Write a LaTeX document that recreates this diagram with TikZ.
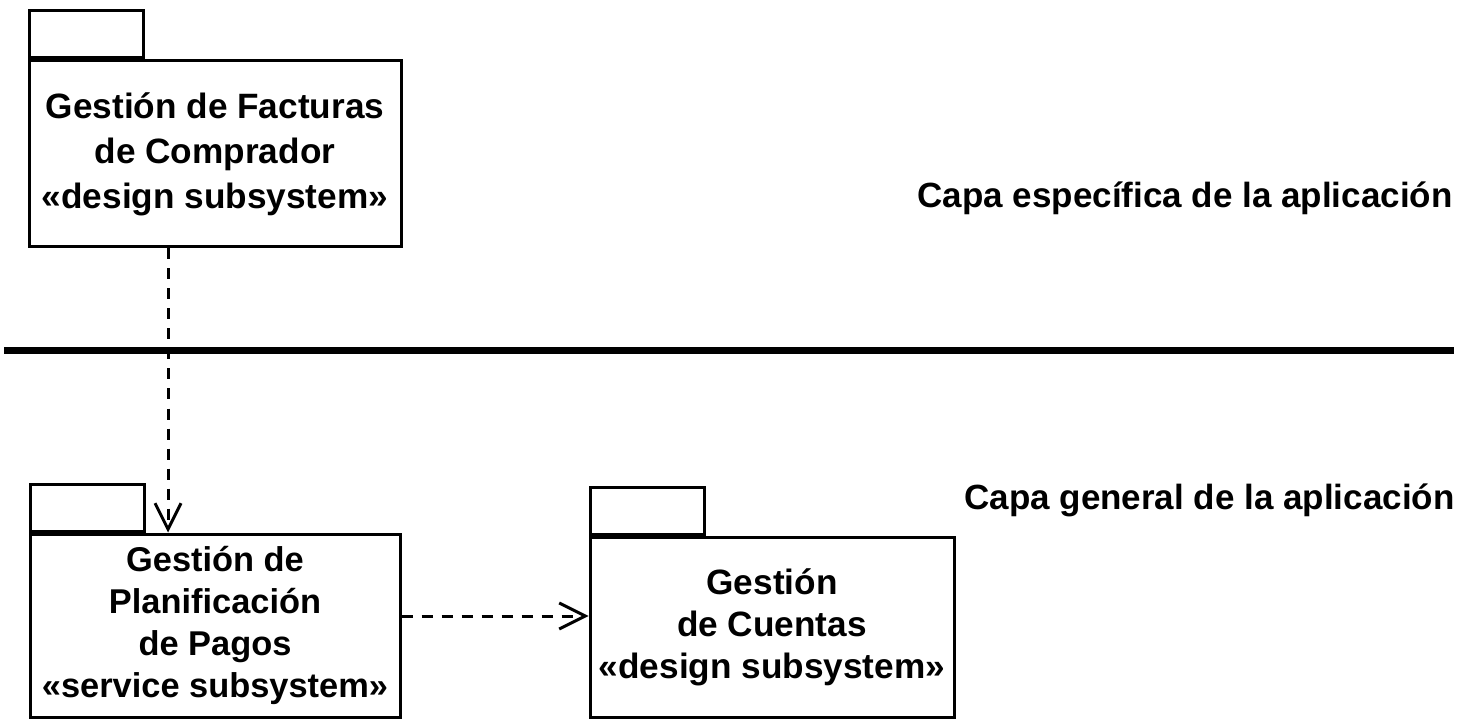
\documentclass[tikz,border=0pt]{standalone}
\usepackage{fontspec}
\setmainfont{Liberation Sans}
\usepackage{tikz}
\usetikzlibrary{arrows.meta}
\def\grosor{1.5pt}

\begin{document}
\begin{tikzpicture}[x=0.5pt, y=-0.5pt,
	paquete/.style={draw, line width=\grosor, align=center, inner sep=0pt, font=\bfseries\fontsize{#1}{21}\selectfont},
	paquete/.default=17.5,
	pestana/.style={draw, line width=\grosor, minimum width=57pt, minimum height=23.5pt, inner sep=0pt, anchor=south west},
	dep/.style={line width=\grosor, dash pattern=on 5.5pt off 4.5pt, -{Straight Barb[length=13pt, width=13pt, line width=\grosor]}},
	capa/.style={anchor=east, inner sep=0pt, font=\bfseries\fontsize{17.5}{20}\selectfont}]
	\useasboundingbox (0,0) rectangle (1468,727);
	%\draw[step=50, black!20] (0,0) grid (1468,727);
	\draw[line width=3.5pt] (4,351) -- (1454,351);
	% paquetes
	\node[paquete=17.6, font=\bfseries\fontsize{17.6}{22.5}\selectfont, minimum width=186pt, minimum height=93pt] (fact) at (215,154) {Gestión de Facturas\\de Comprador\\«design subsystem»};
	\node[pestana] (facttab) at (fact.north west) {};
	\node[paquete=17.2, minimum width=185pt, minimum height=91.5pt] (plan) at (215,625.5) {Gestión de\\Planificación\\de Pagos\\«service subsystem»};
	\node[pestana] (plantab) at (plan.north west) {};
	\node[paquete=17.6, minimum width=182pt, minimum height=90pt] (cuent) at (772,627) {Gestión\\de Cuentas\\«design subsystem»};
	\node[pestana] (cuenttab) at (cuent.north west) {};
	% capas
	\node[capa] (espec) at (1453,198) {Capa específica de la aplicación};
	\node[capa] (gener) at (1455,500) {Capa general de la aplicación};
	% dependencias
	\draw[dep] ([xshift=-23.5pt]fact.south) -- ([xshift=-23.5pt]plan.north);
	\draw[dep] ([yshift=4.75pt]plan.east) -- ([yshift=5.5pt]cuent.west);
\end{tikzpicture}
\end{document}
